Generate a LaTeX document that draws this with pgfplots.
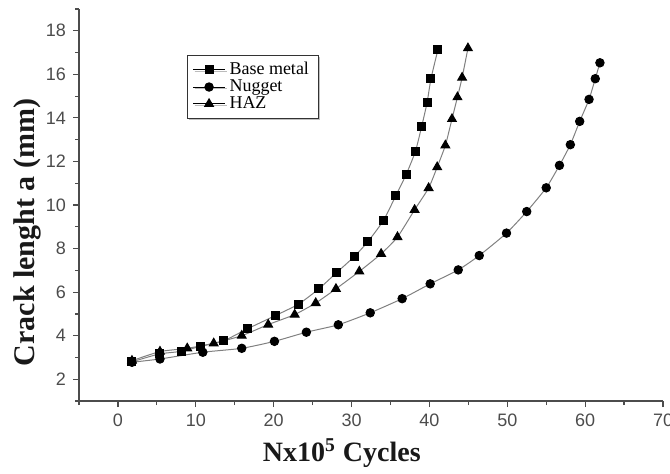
\documentclass[border=0pt]{standalone}
\usepackage{fontspec}
\setmainfont{Liberation Serif}
\setsansfont{Liberation Sans}
\usepackage{pgfplots}
\pgfplotsset{compat=1.18}
\usetikzlibrary{shadows}
\begin{document}
\begin{tikzpicture}
\begin{axis}[
 scale only axis, width=292pt, height=196pt,
 xmin=-5, xmax=70, ymin=1, ymax=19,
 axis x line*=bottom, axis y line*=left,
 xtick={0,10,...,70}, ytick={2,4,...,18},
 minor xtick={-5,5,15,...,65}, minor ytick={1,3,...,19},
 tick align=outside,
 major tick length=3pt, minor tick length=2pt,
 axis line style={black!70, line width=0.6pt},
 every tick/.style={black!70, line width=0.6pt},
 tick label style={font=\sffamily\fontsize{9}{10}\selectfont, text=black!70},
 /pgf/number format/assume math mode=true,
 xlabel={Nx10\textsuperscript{5} Cycles},
 ylabel={Crack lenght a (mm)},
 every axis x label/.style={at={(axis description cs:0.45,0)}, anchor=center, yshift=-26pt, font=\bfseries\fontsize{14}{16}\selectfont, text=black!90},
 every axis y label/.style={at={(axis description cs:0,0.43)}, xshift=-26pt, rotate=90, anchor=center, font=\bfseries\fontsize{15}{17}\selectfont, text=black!90},
 legend style={at={(axis cs:8.9,16.9)}, anchor=north west, font=\fontsize{9}{9}\selectfont, draw=black!80, fill=white, inner xsep=2.5pt, inner ysep=1.5pt, row sep=-3pt, drop shadow={shadow xshift=0.8pt, shadow yshift=-0.8pt, fill=black!50}},
 legend cell align=left,
 legend image code/.code={\draw[black, line width=0.5pt, sharp plot, mark repeat=2, mark phase=2] plot coordinates {(0cm,0cm) (0.28cm,0cm) (0.56cm,0cm)};},
]
\addplot[gray, line width=0.5pt, smooth, tension=0.35, mark=square*, mark size=2pt, mark options={solid, fill=black, draw=black}] coordinates {
(1.8,2.8) (5.3,3.16) (8.1,3.28) (10.6,3.51) (13.6,3.77) (16.6,4.31) (20.2,4.92) (23.2,5.45) (25.8,6.15) (28.1,6.9) (30.4,7.65) (32.1,8.32) (34.1,9.29) (35.7,10.44) (37.0,11.39) (38.2,12.46) (39.0,13.6) (39.7,14.7) (40.2,15.8) (41.1,17.14)
};
\addlegendentry{Base metal}
\addplot[gray, line width=0.5pt, smooth, tension=0.35, mark=*, mark size=2.1pt, mark options={solid, fill=black, draw=black}] coordinates {
(1.8,2.78) (5.4,2.93) (10.9,3.24) (15.9,3.42) (20.1,3.74) (24.2,4.16) (28.3,4.5) (32.4,5.05) (36.5,5.7) (40.1,6.38) (43.7,7.02) (46.4,7.68) (49.9,8.71) (52.5,9.70) (55.0,10.79) (56.7,11.82) (58.1,12.77) (59.3,13.84) (60.5,14.85) (61.3,15.8) (61.9,16.53)
};
\addlegendentry{Nugget}
\addplot[gray, line width=0.5pt, smooth, tension=0.35, mark=triangle*, mark size=2.5pt, mark options={solid, fill=black, draw=black}] coordinates {
(1.8,2.85) (5.4,3.27) (8.9,3.42) (12.3,3.65) (15.9,4.0) (19.3,4.51) (22.7,4.97) (25.4,5.5) (28.0,6.15) (31.0,6.95) (33.8,7.76) (35.9,8.53) (38.1,9.78) (39.9,10.78) (41.0,11.74) (42.05,12.74) (42.9,13.95) (43.6,14.95) (44.2,15.85) (44.95,17.2)
};
\addlegendentry{HAZ}
\coordinate (bl) at (rel axis cs:0,0);
\coordinate (tr) at (rel axis cs:1,1);
\end{axis}
\pgfresetboundingbox
\path ([shift={(-39.5pt,-36pt)}]bl) rectangle ([shift={(3.5pt,4.5pt)}]tr);
\end{tikzpicture}
\end{document}
